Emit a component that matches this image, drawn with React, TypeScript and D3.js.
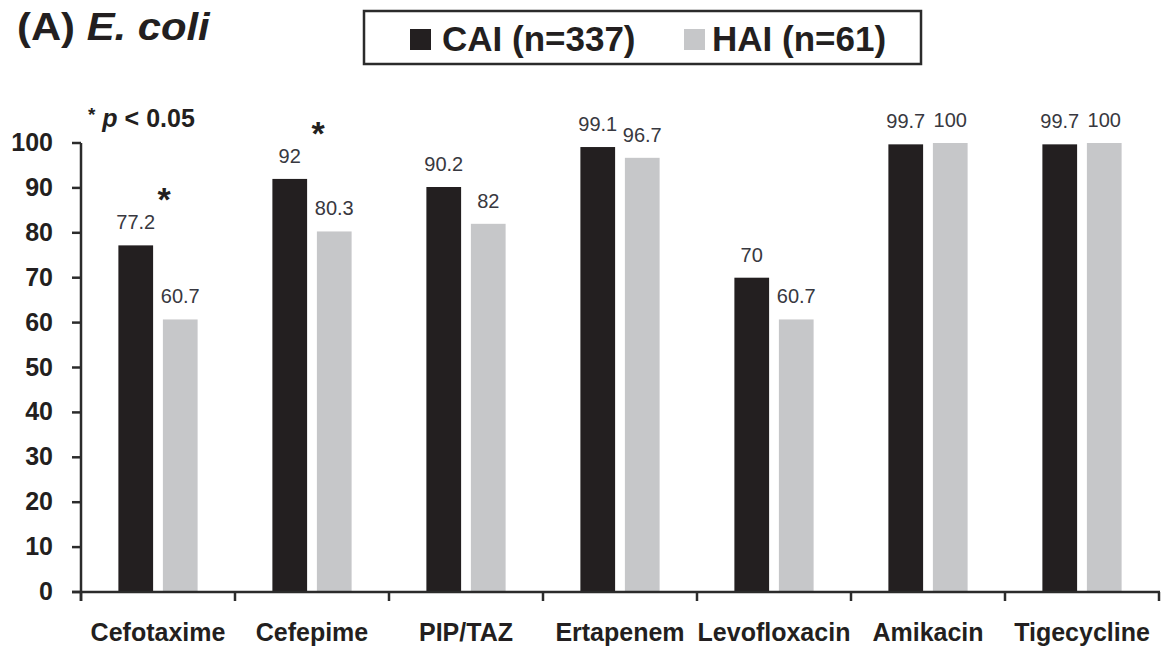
import React from "react";
import * as d3 from "d3";

const categories = ["Cefotaxime", "Cefepime", "PIP/TAZ", "Ertapenem", "Levofloxacin", "Amikacin", "Tigecycline"];
const seriesNames = ["CAI (n=337)", "HAI (n=61)"];
const caiValues = [77.2, 92, 90.2, 99.1, 70, 99.7, 99.7];
const haiValues = [60.7, 80.3, 82, 96.7, 60.7, 100, 100];
const yTicks = [0, 10, 20, 30, 40, 50, 60, 70, 80, 90, 100];
const significant = ["Cefotaxime", "Cefepime"];

const W = 1161;
const H = 648;
const FONT = "'Liberation Sans', Arial, Helvetica, sans-serif";
const COLORS = ["#231f20", "#c6c7c9"];
const AXIS = "#2b2b2b";

export default function App() {
  const x0 = d3.scaleBand<string>().domain(categories).range([81, 1159]).padding(0);
  const x1 = d3
    .scaleBand<string>()
    .domain(["CAI", "HAI"])
    .range([0, x0.bandwidth()])
    .paddingInner(0.22)
    .paddingOuter(0.84);
  const y = d3.scaleLinear().domain([0, 100]).range([592, 143]);

  const series = [
    { key: "CAI", values: caiValues, color: COLORS[0] },
    { key: "HAI", values: haiValues, color: COLORS[1] },
  ];

  const boundaries = categories.map((c) => x0(c) as number).concat([x0.range()[1]]);

  return (
    <div style={{ width: W, height: H, position: "relative", overflow: "hidden" }}>
      <style>{`body{margin:0;}`}</style>
      <svg width={W} height={H} style={{ display: "block", background: "#fff" }} fontFamily={FONT}>
        {/* Title */}
        <text x={17} y={40} fontSize={38} fontWeight="bold" fill="#231f20" transform="translate(17,0) scale(1.1,1) translate(-17,0)">
          <tspan>(A) </tspan>
          <tspan fontStyle="italic">E. coli</tspan>
        </text>

        {/* Legend */}
        <rect x={364} y={11} width={557} height={53} fill="#fff" stroke={AXIS} strokeWidth={2.5} />
        <rect x={410} y={29} width={21} height={21} fill={COLORS[0]} />
        <text x={442} y={51} fontSize={35} fontWeight="bold" fill="#231f20">{seriesNames[0]}</text>
        <rect x={684} y={29} width={21} height={21} fill={COLORS[1]} />
        <text x={712} y={51} fontSize={35} fontWeight="bold" fill="#231f20">{seriesNames[1]}</text>

        {/* p-value note */}
        <text x={88} y={127} fontSize={25} fontWeight="bold" fill="#231f20">
          <tspan fontSize={19} dy={-6}>*</tspan>
          <tspan dy={6}> </tspan>
          <tspan fontStyle="italic">p</tspan>
          <tspan> {"<"} 0.05</tspan>
        </text>

        {/* Bars */}
        {series.map((s) =>
          categories.map((c, i) => {
            const bx = (x0(c) as number) + (x1(s.key) as number);
            const by = y(s.values[i]);
            return (
              <rect key={s.key + c} x={bx} y={by} width={x1.bandwidth()} height={y(0) - by} fill={s.color} />
            );
          })
        )}

        {/* Value labels */}
        {series.map((s) =>
          categories.map((c, i) => {
            const bx = (x0(c) as number) + (x1(s.key) as number) + x1.bandwidth() / 2;
            const by = y(s.values[i]);
            return (
              <text key={"l" + s.key + c} x={bx} y={by - 16} fontSize={20} textAnchor="middle" fill="#383840">
                {String(s.values[i])}
              </text>
            );
          })
        )}

        {/* Significance stars */}
        {categories.map((c, i) =>
          significant.includes(c) ? (
            <text
              key={"s" + c}
              x={(x0(c) as number) + x0.bandwidth() / 2 + 6}
              y={y(Math.max(caiValues[i], haiValues[i])) - 34}
              fontSize={34}
              fontWeight="bold"
              textAnchor="middle"
              fill="#231f20"
            >
              *
            </text>
          ) : null
        )}

        {/* Y axis */}
        <line x1={81} x2={81} y1={y(100)} y2={601} stroke={AXIS} strokeWidth={2.5} />
        {yTicks.map((t) => (
          <g key={"yt" + t}>
            <line x1={72} x2={81} y1={y(t)} y2={y(t)} stroke={AXIS} strokeWidth={2.5} />
            <text x={53} y={y(t) + 8} fontSize={25} fontWeight="bold" textAnchor="end" fill="#231f20">
              {t}
            </text>
          </g>
        ))}

        {/* X axis */}
        <line x1={72} x2={1160} y1={y(0)} y2={y(0)} stroke={AXIS} strokeWidth={2.5} />
        {boundaries.map((bx, i) => (
          <line key={"xt" + i} x1={bx} x2={bx} y1={y(0)} y2={601} stroke={AXIS} strokeWidth={2.5} />
        ))}
        {categories.map((c) => (
          <text
            key={"xl" + c}
            x={(x0(c) as number) + x0.bandwidth() / 2}
            y={641}
            fontSize={25}
            fontWeight="bold"
            textAnchor="middle"
            fill="#231f20"
          >
            {c}
          </text>
        ))}
      </svg>
    </div>
  );
}
